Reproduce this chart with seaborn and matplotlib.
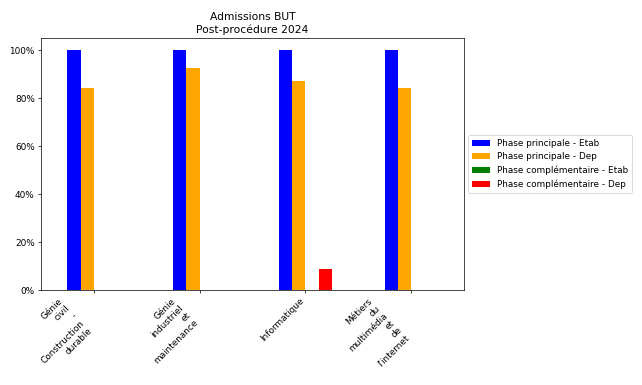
import matplotlib
matplotlib.use("Agg")
import matplotlib.pyplot as plt
import seaborn as sns
import pandas as pd
from matplotlib.ticker import PercentFormatter

formations = ["Génie civil - Construction durable",
              "Génie industriel et maintenance",
              "Informatique",
              "Métiers du multimédia et de l'internet"]
series = ["Phase principale - Etab", "Phase principale - Dep",
          "Phase complémentaire - Etab", "Phase complémentaire - Dep"]
pp_etab = [1.00, 1.00, 1.00, 1.00]
pp_dep = [0.842, 0.925, 0.869, 0.842]
pc_etab = [0.0, 0.0, 0.0, 0.0]
pc_dep = [0.0, 0.0, 0.089, 0.0]
colors = ["blue", "orange", "green", "red"]

rows = []
for s, vals in zip(series, [pp_etab, pp_dep, pc_etab, pc_dep]):
    for f, v in zip(formations, vals):
        rows.append({"formation": f, "serie": s, "valeur": v})
df = pd.DataFrame(rows)

DPI = 64.2
fig = plt.figure(figsize=(642/DPI, 385/DPI), dpi=DPI)
ax = fig.add_axes([41/642, 1-290/385, (464-41)/642, (290-38)/385])
sns.barplot(data=df, x="formation", y="valeur", hue="serie", hue_order=series,
            palette=colors, saturation=1, width=0.5, errorbar=None, ax=ax,
            order=formations)
ax.set_xlim(-0.5, 3.5)
ax.set_ylim(0, 1.05)
ax.yaxis.set_major_formatter(PercentFormatter(1.0, decimals=0))
ax.set_xticks(range(len(formations)))
ax.set_xticklabels([f.replace(" ", "\n") for f in formations], rotation=45, ha="right")
ax.set_xlabel("")
ax.set_ylabel("")
ax.set_title("Admissions BUT\nPost-procédure 2024")
ax.legend(loc="center left", bbox_to_anchor=(1.0, 0.5))
fig.savefig("out.png", dpi=DPI)
